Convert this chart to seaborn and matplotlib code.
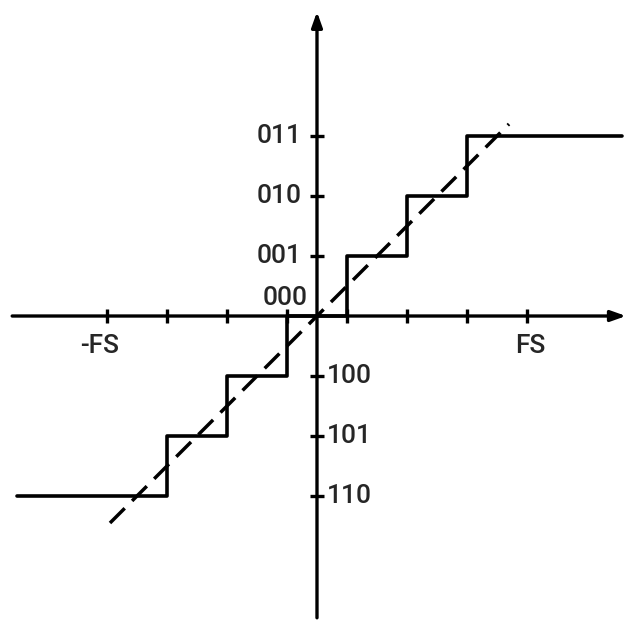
import matplotlib
matplotlib.use("Agg")
import matplotlib.pyplot as plt
import seaborn as sns
import pandas as pd

sns.set_style("white")
plt.rcParams["font.family"] = ["Roboto", "DejaVu Sans"]

# 3-bit sign-magnitude quantizer transfer characteristic
codes = ["110", "101", "100", "000", "001", "010", "011"]
levels = [-3, -2, -1, 0, 1, 2, 3]
thresholds = [-2.5, -1.5, -0.5, 0.5, 1.5, 2.5]
input_range = [-5.0, 5.08]          # extent of the analog input shown
full_scale = 3.5
ideal_span = [-3.45, 3.2]           # extent of the ideal (unquantized) line

# staircase: each level holds from its lower threshold onward
step_x = [input_range[0]] + thresholds + [input_range[1]]
step_y = levels + [levels[-1]]
stairs = pd.DataFrame({"x": step_x, "y": step_y})
ideal = pd.DataFrame({"x": ideal_span, "y": ideal_span})

fig = plt.figure(figsize=(6.35, 6.34), dpi=100)
ax = fig.add_axes([0, 0, 1, 1])
ax.set_xlim(-5.283, 5.30)
ax.set_ylim(-5.30, 5.267)

lw = 2.6
sns.lineplot(data=stairs, x="x", y="y", drawstyle="steps-post",
             color="black", linewidth=lw, sort=False, ax=ax, zorder=3)
sns.lineplot(data=ideal, x="x", y="y", color="black", linewidth=2.5,
             linestyle=(0, (6, 3.0)), sort=False, ax=ax, zorder=4)
ax.set_xlabel("")
ax.set_ylabel("")

# axes drawn as arrows through the origin
arrow = dict(arrowstyle="-|>,head_length=0.9,head_width=0.32",
             color="black", lw=2.4, shrinkA=0, shrinkB=0)
ax.annotate("", xy=(5.15, 0), xytext=(-5.08, 0), arrowprops=arrow, zorder=5)
ax.annotate("", xy=(0, 5.07), xytext=(0, -5.03), arrowprops=arrow, zorder=5)

for side in ["left", "bottom"]:
    ax.spines[side].set_position("zero")
for side in ax.spines:
    ax.spines[side].set_visible(False)

x_ticks = thresholds[:] + [-full_scale, full_scale]
ax.set_xticks(sorted(x_ticks))
ax.set_yticks([v for v in levels if v != 0])
ax.set_xticklabels([])
ax.set_yticklabels([])
ax.tick_params(axis="both", direction="inout", length=10, width=2.4,
               color="black", bottom=True, left=True)

fs = 19
fw = "medium"
ax.text(-full_scale - 0.12, -0.5, "-FS", ha="center", va="center",
        fontsize=fs, fontweight=fw)
ax.text(full_scale + 0.05, -0.5, "FS", ha="center", va="center",
        fontsize=fs, fontweight=fw)

for code, lev in zip(codes, levels):
    if lev > 0:
        ax.text(-0.26, lev, code, ha="right", va="center",
                fontsize=fs, fontweight=fw)
    elif lev == 0:
        ax.text(-0.15, 0.3, code, ha="right", va="center",
                fontsize=fs, fontweight=fw)
    else:
        ax.text(0.17, lev, code, ha="left", va="center",
                fontsize=fs, fontweight=fw)

ax.grid(False)
fig.savefig("out.png", dpi=100)
